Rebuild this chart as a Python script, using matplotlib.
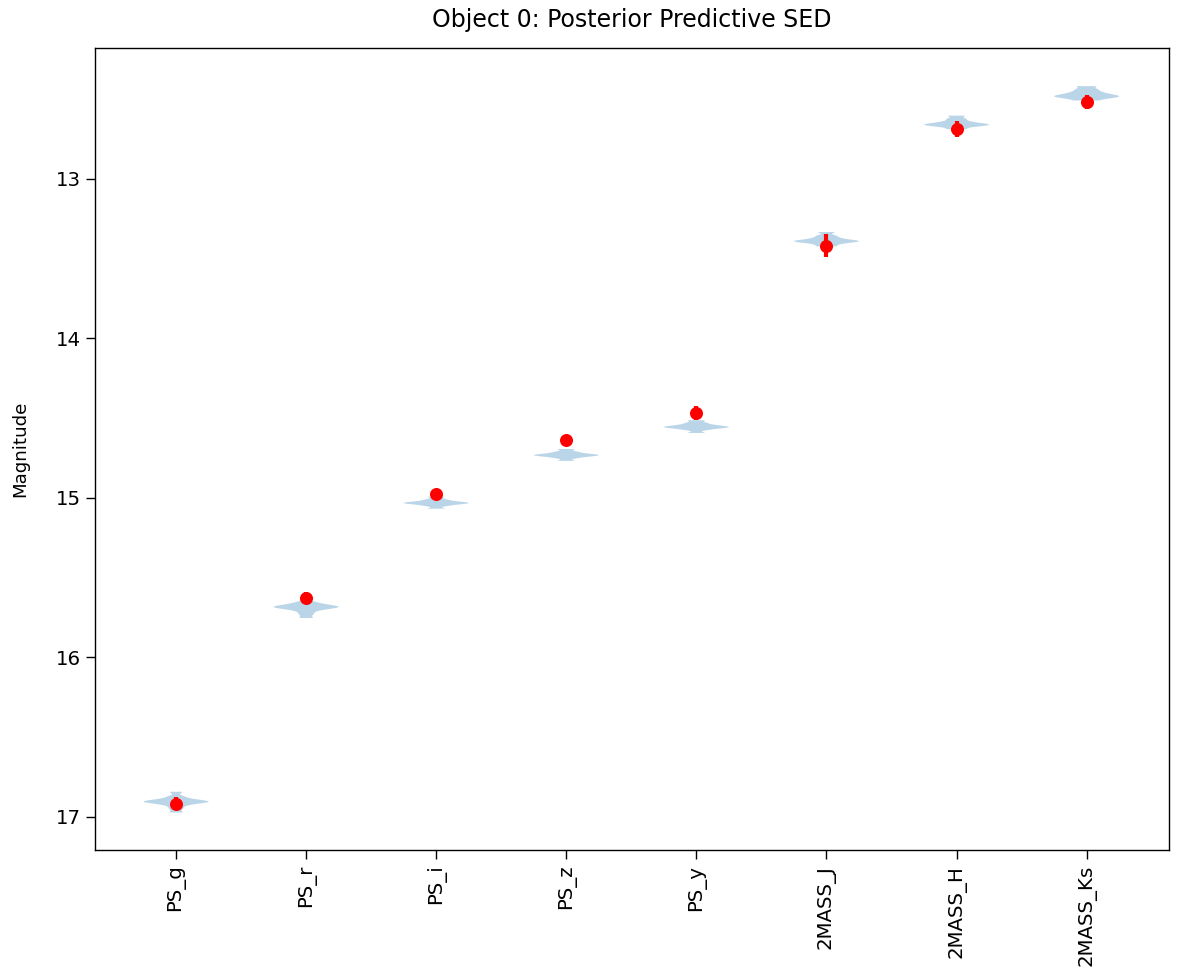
import numpy as np
import matplotlib.pyplot as plt

bands = ['PS_g', 'PS_r', 'PS_i', 'PS_z', 'PS_y', '2MASS_J', '2MASS_H', '2MASS_Ks']

# observed magnitudes and errors (red points)
obs_mag = [16.92, 15.63, 14.975, 14.64, 14.47, 13.42, 12.69, 12.52]
obs_err = [0.04, 0.04, 0.03, 0.035, 0.045, 0.07, 0.05, 0.045]

# posterior predictive samples per band (violins)
samples = [
    [16.845, 16.875, 16.89, 16.898, 16.903, 16.906, 16.909, 16.912, 16.918, 16.93, 16.95, 16.975],
    [15.625, 15.655, 15.668, 15.676, 15.681, 15.685, 15.688, 15.692, 15.698, 15.71, 15.73, 15.755],
    [14.995, 15.012, 15.022, 15.028, 15.032, 15.035, 15.038, 15.043, 15.052, 15.07],
    [14.695, 14.712, 14.722, 14.728, 14.732, 14.735, 14.738, 14.743, 14.752, 14.77],
    [14.515, 14.532, 14.543, 14.55, 14.555, 14.558, 14.561, 14.566, 14.575, 14.595],
    [13.335, 13.358, 13.372, 13.382, 13.388, 13.392, 13.395, 13.40, 13.41, 13.425],
    [12.605, 12.625, 12.64, 12.65, 12.656, 12.66, 12.664, 12.668, 12.675, 12.69],
    [12.42, 12.44, 12.455, 12.466, 12.474, 12.48, 12.485, 12.49, 12.497, 12.51],
]

x = np.arange(len(bands))

fig, ax = plt.subplots(figsize=(9.424, 7.816), dpi=125)

ax.violinplot(samples, positions=x, widths=0.5, showextrema=False, bw_method=0.3)
ax.errorbar(x, obs_mag, yerr=obs_err, fmt='o', color='red', markersize=6.5,
            elinewidth=2.4, capsize=0)

ax.set_xticks(x)
ax.set_xticklabels(bands, rotation=90)
ax.tick_params(length=5, labelsize=11.4)
ax.set_ylabel('Magnitude', fontsize=10.5, labelpad=15)
ax.set_title('Object 0: Posterior Predictive SED', fontsize=13.6, pad=12)
ax.set_xlim(-0.62, 7.63)
ax.set_ylim(17.21, 12.18)
ax.set_yticks([13, 14, 15, 16, 17])

fig.subplots_adjust(left=0.081, right=0.992, top=0.951, bottom=0.13)
fig.savefig('out.png', dpi=125)
